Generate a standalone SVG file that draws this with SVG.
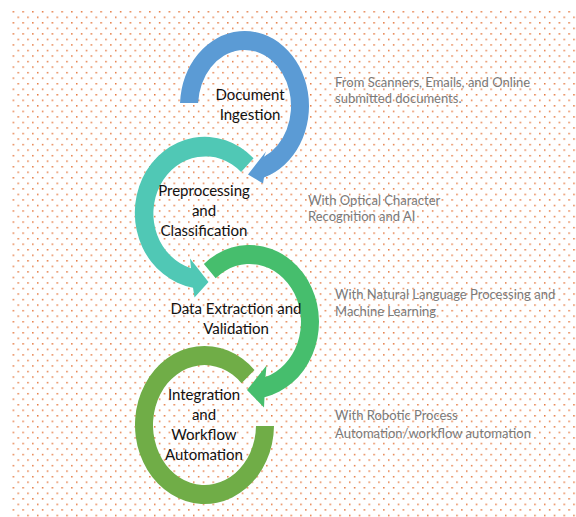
<svg xmlns="http://www.w3.org/2000/svg" width="576" height="517" viewBox="0 0 576 517">
  <defs>
    <pattern id="dots" patternUnits="userSpaceOnUse" x="12.6" y="11" width="9.75" height="11.07">
      <rect x="0" y="0" width="1.5" height="1.5" fill="#E2692A" opacity="0.9"/>
      <rect x="4.88" y="5.53" width="1.5" height="1.5" fill="#E2692A" opacity="0.9"/>
    </pattern>
    <style>
      .label { font-family: Lato, "Open Sans", "Liberation Sans", sans-serif; font-size: 15px; fill: #111111; text-anchor: middle; }
      .note { font-family: Lato, "Open Sans", "Liberation Sans", sans-serif; font-size: 13px; fill: #7A7A7A; }
    </style>
  </defs>

  <!-- dotted backdrop -->
  <rect width="576" height="517" fill="#ffffff"/>
  <rect x="12" y="10" width="564" height="507" fill="url(#dots)"/>

  <!-- circular arrows -->
  <g id="connectors">
    <path id="arc-ingestion" fill="#5B9BD5"
      d="M 180.05 103 A 64.5 75 0 1 1 264 177.5 L 263 183.5 L 248 174.5 L 266 151.5 L 264 156.8 A 46.5 56 0 1 0 198.1 103 Z"/>
    <path id="arc-preprocessing" fill="#50C8B5"
      d="M 253.6 158.3 A 70 76 0 1 0 193 287.7 L 194.5 297.5 L 208.5 282 L 190 258.5 L 191 268.2 A 52 57 0 1 1 241.1 172 Z"/>
    <path id="arc-extraction" fill="#46BE6D"
      d="M 203.9 263.9 A 69.5 77 0 1 1 264.5 397.2 L 264 407.5 L 247 390 L 266.5 365.5 L 265.5 377.1 A 51.5 58 0 1 0 215.7 278.2 Z"/>
    <path id="arc-integration" fill="#70AD47"
      d="M 274 426 A 69.5 79 0 1 1 254.5 370.1 L 241.5 383.3 A 51.5 60 0 1 0 256 426 Z"/>
  </g>

  <g id="node-ingestion">
    <text class="label" x="250" y="100">Document</text>
    <text class="label" x="250" y="120">Ingestion</text>
    <text class="note" x="335" y="87">From Scanners, Emails, and Online</text>
    <text class="note" x="335" y="103">submitted documents.</text>
  </g>

  <g id="node-preprocessing">
    <text class="label" x="204" y="196">Preprocessing</text>
    <text class="label" x="204" y="216">and</text>
    <text class="label" x="204" y="236">Classification</text>
    <text class="note" x="308" y="205">With Optical Character</text>
    <text class="note" x="308" y="221">Recognition and AI</text>
  </g>

  <g id="node-extraction">
    <text class="label" x="236" y="314">Data Extraction and</text>
    <text class="label" x="236" y="334">Validation</text>
    <text class="note" x="335" y="299">With Natural Language Processing and</text>
    <text class="note" x="335" y="316">Machine Learning</text>
  </g>

  <g id="node-integration">
    <text class="label" x="204" y="400">Integration</text>
    <text class="label" x="204" y="420">and</text>
    <text class="label" x="204" y="440">Workflow</text>
    <text class="label" x="204" y="460">Automation</text>
    <text class="note" x="335" y="420">With Robotic Process</text>
    <text class="note" x="335" y="438">Automation/workflow automation</text>
  </g>
</svg>
